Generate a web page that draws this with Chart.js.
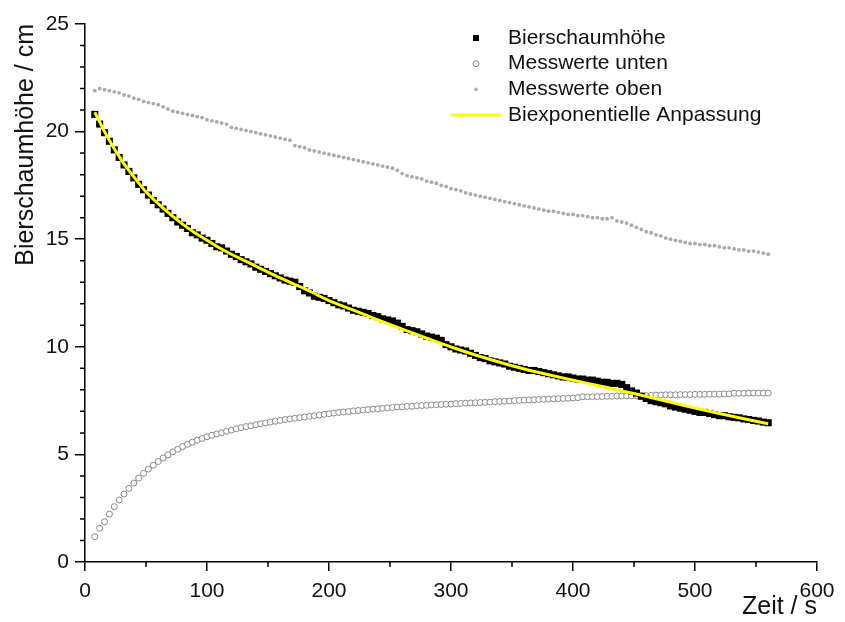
<!DOCTYPE html>
<html>
<head>
<meta charset="utf-8">
<title>Bierschaumhöhe</title>
<script src="https://cdn.jsdelivr.net/npm/chart.js@4.4.0/dist/chart.umd.min.js"></script>
<style>
  html, body { margin: 0; padding: 0; background: #fff; }
</style>
</head>
<body>
<canvas id="myChart" width="845" height="622"></canvas>
<script>
// Messzeitpunkte in s
var zeit = [
  8, 12, 16, 20, 24, 28, 32, 36, 40, 44,
  48, 52, 56, 60, 64, 68, 72, 76, 80, 84,
  88, 92, 96, 100, 104, 108, 112, 116, 120, 124,
  128, 132, 136, 140, 144, 148, 152, 156, 160, 164,
  168, 172, 176, 180, 184, 188, 192, 196, 200, 204,
  208, 212, 216, 220, 224, 228, 232, 236, 240, 244,
  248, 252, 256, 260, 264, 268, 272, 276, 280, 284,
  288, 292, 296, 300, 304, 308, 312, 316, 320, 324,
  328, 332, 336, 340, 344, 348, 352, 356, 360, 364,
  368, 372, 376, 380, 384, 388, 392, 396, 400, 404,
  408, 412, 416, 420, 424, 428, 432, 436, 440, 444,
  448, 452, 456, 460, 464, 468, 472, 476, 480, 484,
  488, 492, 496, 500, 504, 508, 512, 516, 520, 524,
  528, 532, 536, 540, 544, 548, 552, 556, 560
];

// Bierschaumhöhe in cm
var bierschaum = [
  20.8, 20.35, 19.95, 19.55, 19.15, 18.8, 18.45, 18.15, 17.85, 17.55,
  17.3, 17.05, 16.8, 16.6, 16.4, 16.2, 16.0, 15.8, 15.65, 15.5,
  15.3, 15.2, 15.05, 14.95, 14.8, 14.65, 14.6, 14.45, 14.3, 14.2,
  14.05, 13.95, 13.85, 13.7, 13.6, 13.5, 13.4, 13.3, 13.2, 13.1,
  13.05, 13.0, 12.8, 12.6, 12.5, 12.35, 12.3, 12.25, 12.15, 12.05,
  11.95, 11.9, 11.8, 11.7, 11.65, 11.6, 11.55, 11.45, 11.4, 11.3,
  11.25, 11.2, 11.1, 10.95, 10.8, 10.75, 10.7, 10.6, 10.5, 10.45,
  10.4, 10.3, 10.1, 10.0, 9.9, 9.85, 9.8, 9.7, 9.6, 9.5,
  9.45, 9.35, 9.3, 9.25, 9.2, 9.1, 9.05, 9.0, 8.95, 8.9,
  8.9, 8.85, 8.8, 8.75, 8.7, 8.65, 8.6, 8.6, 8.55, 8.5,
  8.5, 8.45, 8.45, 8.4, 8.35, 8.35, 8.3, 8.3, 8.25, 8.1,
  7.95, 7.85, 7.7, 7.6, 7.5, 7.45, 7.4, 7.35, 7.25, 7.2,
  7.15, 7.1, 7.05, 7.0, 6.95, 6.95, 6.9, 6.85, 6.8, 6.8,
  6.75, 6.72, 6.7, 6.65, 6.62, 6.58, 6.55, 6.5, 6.47
];

// Messwerte unten in cm
var messUnten = [
  1.18, 1.57, 1.87, 2.23, 2.57, 2.88, 3.16, 3.42, 3.67, 3.90,
  4.12, 4.32, 4.50, 4.67, 4.83, 4.98, 5.12, 5.24, 5.36, 5.47,
  5.57, 5.66, 5.74, 5.82, 5.89, 5.95, 6.01, 6.07, 6.13, 6.19,
  6.24, 6.29, 6.33, 6.38, 6.42, 6.46, 6.50, 6.54, 6.58, 6.62,
  6.65, 6.68, 6.71, 6.74, 6.77, 6.80, 6.83, 6.86, 6.89, 6.92,
  6.95, 6.97, 7.00, 7.02, 7.04, 7.06, 7.08, 7.10, 7.12, 7.14,
  7.16, 7.18, 7.20, 7.21, 7.23, 7.24, 7.26, 7.27, 7.28, 7.30,
  7.31, 7.32, 7.33, 7.34, 7.36, 7.37, 7.38, 7.39, 7.40, 7.41,
  7.42, 7.43, 7.45, 7.46, 7.47, 7.48, 7.50, 7.51, 7.52, 7.53,
  7.54, 7.55, 7.56, 7.57, 7.58, 7.59, 7.60, 7.61, 7.62, 7.64,
  7.68, 7.68, 7.68, 7.69, 7.69, 7.70, 7.70, 7.71, 7.71, 7.72,
  7.72, 7.72, 7.73, 7.73, 7.74, 7.76, 7.76, 7.77, 7.77, 7.77,
  7.78, 7.78, 7.78, 7.79, 7.79, 7.79, 7.80, 7.80, 7.80, 7.81,
  7.81, 7.84, 7.84, 7.84, 7.85, 7.85, 7.85, 7.85, 7.85
];

// Messwerte oben in cm
var messOben = [
  21.9, 22.0, 21.95, 21.9, 21.85, 21.8, 21.7, 21.65, 21.55, 21.5,
  21.4, 21.35, 21.3, 21.25, 21.15, 21.05, 20.95, 20.9, 20.85, 20.8,
  20.75, 20.7, 20.65, 20.55, 20.5, 20.45, 20.4, 20.35, 20.2, 20.15,
  20.1, 20.05, 20.0, 19.95, 19.9, 19.85, 19.8, 19.75, 19.7, 19.65,
  19.6, 19.35, 19.3, 19.25, 19.15, 19.1, 19.05, 19.0, 18.95, 18.9,
  18.85, 18.8, 18.75, 18.7, 18.65, 18.6, 18.55, 18.5, 18.45, 18.4,
  18.35, 18.3, 18.2, 18.05, 17.95, 17.9, 17.85, 17.8, 17.7, 17.65,
  17.6, 17.5, 17.45, 17.35, 17.3, 17.25, 17.15, 17.1, 17.05, 17.0,
  16.95, 16.9, 16.85, 16.8, 16.75, 16.7, 16.65, 16.6, 16.55, 16.5,
  16.45, 16.4, 16.35, 16.3, 16.3, 16.25, 16.2, 16.15, 16.15, 16.1,
  16.1, 16.05, 16.0, 16.0, 15.95, 15.95, 16.0, 15.85, 15.8, 15.75,
  15.65, 15.55, 15.45, 15.35, 15.3, 15.2, 15.15, 15.05, 15.0, 14.95,
  14.9, 14.85, 14.8, 14.8, 14.75, 14.75, 14.7, 14.7, 14.65, 14.6,
  14.6, 14.55, 14.5, 14.5, 14.45, 14.45, 14.4, 14.35, 14.3
];

// Biexponentielle Anpassung
var fitZeit = [
  8, 12, 16, 20, 24, 28, 32, 36, 40,
  50, 60, 70, 80, 90, 100, 110, 120,
  140, 160, 180, 200, 220, 240, 260, 280, 300, 320,
  340, 360, 380, 400, 420, 440, 460, 480, 500, 520, 540, 560
];
var fitWerte = [
  20.9, 20.45, 20.0, 19.6, 19.2, 18.85, 18.5, 18.2, 17.9,
  17.2, 16.65, 16.15, 15.7, 15.3, 14.95, 14.6, 14.3,
  13.75, 13.2, 12.7, 12.15, 11.7, 11.25, 10.82, 10.4, 9.99, 9.62,
  9.28, 8.97, 8.7, 8.45, 8.2, 7.95, 7.7, 7.42, 7.15, 6.9, 6.66, 6.42
];

// Achsenteilung
var xTicks = [0, 100, 200, 300, 400, 500, 600];
var yTicks = [0, 5, 10, 15, 20, 25];
var xMinor = [50, 150, 250, 350, 450, 550];
var yMinor = [1, 2, 3, 4, 6, 7, 8, 9, 11, 12, 13, 14, 16, 17, 18, 19, 21, 22, 23, 24];

function paare(xs, ys) {
  return xs.map(function (x, i) { return { x: x, y: ys[i] }; });
}

var schrift = 'Arial, "Liberation Sans", sans-serif';

// kurze Nebenstriche an beiden Achsen
var nebenStriche = {
  id: 'nebenStriche',
  afterDraw: function (chart) {
    var c = chart.ctx, xs = chart.scales.x, ys = chart.scales.y;
    c.save();
    c.strokeStyle = '#000';
    c.lineWidth = 1.5;
    c.beginPath();
    xMinor.forEach(function (v) {
      var px = xs.getPixelForValue(v);
      c.moveTo(px, ys.bottom);
      c.lineTo(px, ys.bottom + 5);
    });
    yMinor.forEach(function (v) {
      var py = ys.getPixelForValue(v);
      c.moveTo(xs.left, py);
      c.lineTo(xs.left - 5, py);
    });
    c.stroke();
    c.restore();
  }
};

// Legende im Diagramm oben rechts
var legendeInnen = {
  id: 'legendeInnen',
  afterDraw: function (chart) {
    var c = chart.ctx, a = chart.chartArea;
    var x0 = a.left + a.width * 0.5, y0 = a.top + 14, zeile = 25.7;
    c.save();
    c.font = '21px ' + schrift;
    c.textBaseline = 'middle';
    chart.data.datasets.forEach(function (ds, i) {
      var y = y0 + i * zeile, mx = x0 + 25;
      if (ds.showLine) {
        c.strokeStyle = ds.borderColor;
        c.lineWidth = ds.borderWidth;
        c.beginPath();
        c.moveTo(x0, y);
        c.lineTo(x0 + 50, y);
        c.stroke();
      } else if (ds.pointStyle === 'rect') {
        c.fillStyle = ds.pointBackgroundColor;
        c.fillRect(mx - 3, y - 3, 6, 6);
      } else if (ds.pointBackgroundColor === '#fff') {
        c.strokeStyle = ds.pointBorderColor;
        c.lineWidth = 1;
        c.beginPath();
        c.arc(mx, y, 3, 0, Math.PI * 2);
        c.stroke();
      } else {
        c.fillStyle = ds.pointBackgroundColor;
        c.beginPath();
        c.arc(mx, y, 1.8, 0, Math.PI * 2);
        c.fill();
      }
      c.fillStyle = '#111';
      c.fillText(ds.label, x0 + 57, y);
    });
    c.restore();
  }
};

var ctx = document.getElementById('myChart').getContext('2d');

var chart = new Chart(ctx, {
  type: 'scatter',
  data: {
    datasets: [{
      label: 'Bierschaumhöhe',
      data: paare(zeit, bierschaum),
      pointStyle: 'rect',
      pointRadius: 5,
      pointBackgroundColor: '#000',
      pointBorderColor: '#000',
      pointBorderWidth: 0,
      order: 1
    }, {
      label: 'Messwerte unten',
      data: paare(zeit, messUnten),
      pointStyle: 'circle',
      pointRadius: 3,
      pointBackgroundColor: '#fff',
      pointBorderColor: '#8a8a8a',
      pointBorderWidth: 1,
      order: 2
    }, {
      label: 'Messwerte oben',
      data: paare(zeit, messOben),
      pointStyle: 'circle',
      pointRadius: 1.9,
      pointBackgroundColor: '#ababab',
      pointBorderColor: '#ababab',
      pointBorderWidth: 0,
      order: 3
    }, {
      label: 'Biexponentielle Anpassung',
      data: paare(fitZeit, fitWerte),
      showLine: true,
      borderColor: '#ffff00',
      borderWidth: 3,
      pointRadius: 0,
      cubicInterpolationMode: 'monotone',
      order: 0
    }]
  },
  options: {
    responsive: false,
    animation: false,
    layout: { padding: { top: 24, right: 28, left: 0, bottom: 0 } },
    plugins: {
      legend: { display: false },
      tooltip: { enabled: false }
    },
    scales: {
      x: {
        type: 'linear',
        min: 0,
        max: 600,
        afterBuildTicks: function (s) { s.ticks = xTicks.map(function (v) { return { value: v }; }); },
        afterFit: function (s) { s.height = 60; },
        border: { color: '#000', width: 1.5 },
        grid: { drawOnChartArea: false, drawTicks: true, tickLength: 9, color: '#000', lineWidth: 1.5 },
        ticks: { color: '#111', padding: 8, maxRotation: 0, font: { family: schrift, size: 21 } },
        title: {
          display: true,
          text: 'Zeit / s',
          align: 'end',
          color: '#111',
          padding: { top: 0, bottom: 0 },
          font: { family: schrift, size: 25 }
        }
      },
      y: {
        type: 'linear',
        min: 0,
        max: 25,
        afterBuildTicks: function (s) { s.ticks = yTicks.map(function (v) { return { value: v }; }); },
        afterFit: function (s) { s.width = 85; },
        border: { color: '#000', width: 1.5 },
        grid: { drawOnChartArea: false, drawTicks: true, tickLength: 10, color: '#000', lineWidth: 1.5 },
        ticks: { color: '#111', padding: 6, font: { family: schrift, size: 21 } },
        title: {
          display: true,
          text: 'Bierschaumhöhe / cm',
          align: 'end',
          color: '#111',
          padding: { top: 11, bottom: 0 },
          font: { family: schrift, size: 25 }
        }
      }
    }
  },
  plugins: [nebenStriche, legendeInnen]
});
</script>
</body>
</html>
